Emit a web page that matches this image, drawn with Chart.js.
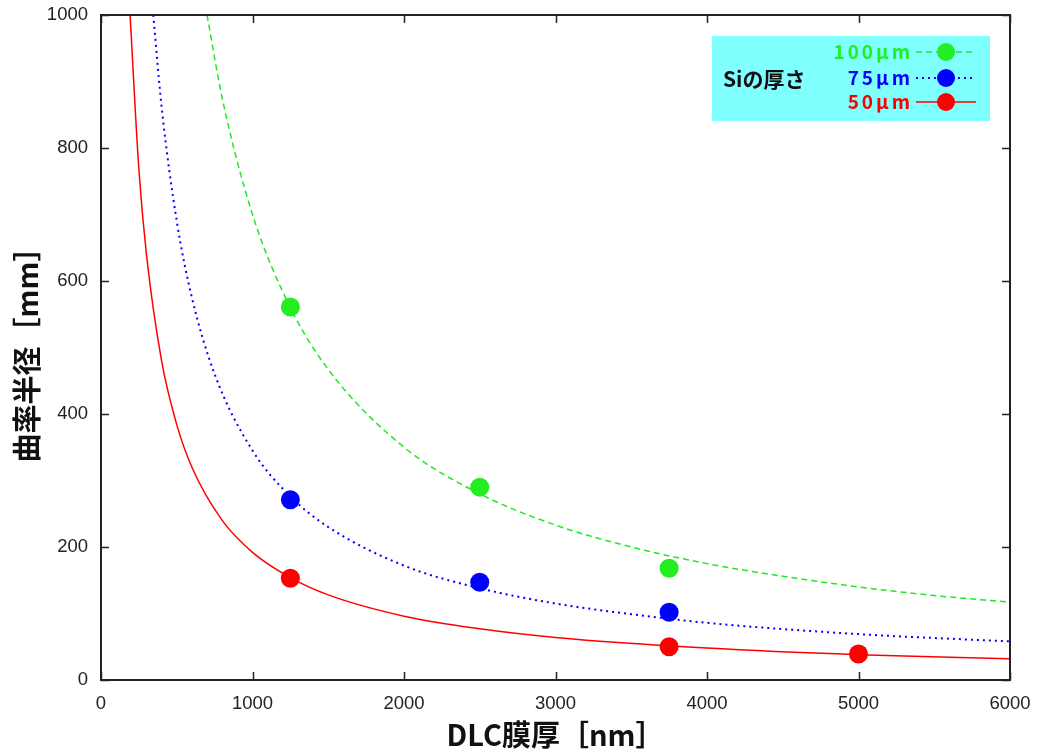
<!DOCTYPE html>
<html>
<head>
<meta charset="utf-8">
<script src="https://cdn.jsdelivr.net/npm/chart.js@4/dist/chart.umd.min.js"></script>
<style>
html,body{margin:0;padding:0;background:#fff;}
#wrap{width:1041px;height:754px;}
</style>
</head>
<body>
<div id="wrap"><canvas id="c" width="1041" height="754"></canvas></div>
<script>
// measured points (DLC thickness nm -> radius mm)
const thickness = [1250, 2500, 3750, 5000];
const si100Points = [561, 290, 168, null];
const si75Points = [271, 147, 102, null];
const si50Points = [153, null, 50, 39];

// fitted curves
const curve100X = [700, 800, 1000, 1250, 1500, 2000, 2500, 3000, 3500, 4000, 4500, 5000, 5500, 6000];
const curve100Y = [1000, 875, 700, 560, 467, 350, 280, 233, 200, 175, 156, 140, 127, 117];
const curve75X = [345, 400, 500, 600, 750, 1000, 1250, 1500, 2000, 2500, 3000, 3500, 4000, 5000, 6000];
const curve75Y = [1000, 862, 690, 575, 460, 345, 276, 230, 172, 138, 115, 99, 86, 69, 58];
const curve50X = [192, 250, 300, 400, 500, 600, 800, 1000, 1250, 1500, 2000, 2500, 3000, 4000, 5000, 6000];
const curve50Y = [1000, 768, 640, 480, 384, 320, 240, 192, 154, 128, 96, 77, 64, 48, 38, 32];

const xTicks = [0, 1000, 2000, 3000, 4000, 5000, 6000];
const yTicks = [0, 200, 400, 600, 800, 1000];

const legendTitle = 'Siの厚さ';
const seriesNames = ['100μm', '75μm', '50μm'];

const GREEN_L = '#22e822', GREEN_P = '#22ee22';
const BLUE = '#0000ff', RED = '#ff0000';

const zip = (xs, ys) => xs.map((x, i) => ({x: x, y: ys[i]})).filter(p => p.y !== null);

const frame = {
  id: 'frame',
  afterDatasetsDraw(chart) {
    const {ctx, chartArea: a, scales: {x, y}} = chart;
    ctx.save();
    ctx.strokeStyle = '#222';
    ctx.lineWidth = 1.5;
    const L = 8;
    ctx.beginPath();
    xTicks.forEach(v => {
      const px = Math.round(x.getPixelForValue(v)) + 0.5;
      ctx.moveTo(px, a.bottom); ctx.lineTo(px, a.bottom - L);
      ctx.moveTo(px, a.top); ctx.lineTo(px, a.top + L);
    });
    yTicks.forEach(v => {
      const py = Math.round(y.getPixelForValue(v)) + 0.5;
      ctx.moveTo(a.left, py); ctx.lineTo(a.left + L, py);
      ctx.moveTo(a.right, py); ctx.lineTo(a.right - L, py);
    });
    ctx.stroke();
    ctx.lineWidth = 2;
    ctx.strokeRect(a.left, a.top, a.right - a.left, a.bottom - a.top);
    ctx.restore();
  }
};

const legendBox = {
  id: 'legendBox',
  afterDraw(chart) {
    const ctx = chart.ctx;
    ctx.save();
    ctx.fillStyle = '#80ffff';
    ctx.fillRect(712, 36, 278, 85);
    ctx.fillStyle = '#111';
    ctx.font = 'bold 21px "Noto Sans CJK JP"';
    ctx.textBaseline = 'middle';
    ctx.textAlign = 'left';
    ctx.fillText(legendTitle, 723, 79);
    const rows = [
      {name: seriesNames[0], c: GREEN_L, p: GREEN_P, dash: [6, 4], w: 1.5, y: 52},
      {name: seriesNames[1], c: BLUE, p: BLUE, dash: [2, 4], w: 2, y: 78},
      {name: seriesNames[2], c: RED, p: RED, dash: [], w: 1.5, y: 102}
    ];
    rows.forEach(r => {
      ctx.font = 'bold 19px "Noto Sans CJK JP"';
      ctx.letterSpacing = '3px';
      ctx.textAlign = 'right';
      ctx.fillStyle = r.p;
      ctx.fillText(r.name, 913, r.y);
      ctx.letterSpacing = '0px';
      ctx.strokeStyle = r.c;
      ctx.lineWidth = r.w;
      ctx.setLineDash(r.dash);
      ctx.beginPath();
      ctx.moveTo(916, r.y); ctx.lineTo(976, r.y);
      ctx.stroke();
      ctx.setLineDash([]);
      ctx.fillStyle = r.p;
      ctx.beginPath();
      ctx.arc(946, r.y, 9, 0, Math.PI * 2);
      ctx.fill();
    });
    ctx.restore();
  }
};

const lineDs = (data, color, dash, w) => ({
  type: 'line', data: data, borderColor: color, borderWidth: w, borderDash: dash,
  pointRadius: 0, fill: false, cubicInterpolationMode: 'monotone', order: 2
});
const ptDs = (data, color) => ({
  type: 'scatter', data: data, backgroundColor: color, borderColor: color,
  pointRadius: 9.5, pointHoverRadius: 9.5, borderWidth: 0, order: 1
});

const numFmt = v => String(v);

new Chart(document.getElementById('c'), {
  type: 'scatter',
  data: {
    datasets: [
      lineDs(zip(curve100X, curve100Y), GREEN_L, [6, 4], 1.5),
      lineDs(zip(curve75X, curve75Y), BLUE, [2, 4], 2),
      lineDs(zip(curve50X, curve50Y), RED, [], 1.5),
      ptDs(zip(thickness, si100Points), GREEN_P),
      ptDs(zip(thickness, si75Points), BLUE),
      ptDs(zip(thickness, si50Points), RED)
    ]
  },
  options: {
    responsive: false,
    animation: false,
    events: [],
    layout: {padding: {top: 15, right: 31, left: 0, bottom: 0}},
    plugins: {legend: {display: false}, tooltip: {enabled: false}},
    scales: {
      x: {
        type: 'linear', min: 0, max: 6000,
        afterBuildTicks: s => { s.ticks = xTicks.map(v => ({value: v})); },
        afterFit: s => { s.height = 74; s.paddingLeft = 0; s.paddingRight = 0; },
        grid: {display: false, drawTicks: false},
        border: {display: false},
        ticks: {padding: 13, color: '#222', callback: numFmt, font: {family: '"Liberation Sans", Arial', size: 18.5}},
        title: {display: true, text: 'DLC膜厚［nm］', color: '#111', align: 'center',
          font: {family: '"Noto Sans CJK JP"', size: 29, weight: 'bold'}, padding: {top: 0, bottom: 2}}
      },
      y: {
        type: 'linear', min: 0, max: 1000,
        afterBuildTicks: s => { s.ticks = yTicks.map(v => ({value: v})); },
        afterFit: s => { s.width = 101; s.paddingTop = 0; s.paddingBottom = 0; },
        grid: {display: false, drawTicks: false},
        border: {display: false},
        ticks: {padding: 13, color: '#222', callback: numFmt, font: {family: '"Liberation Sans", Arial', size: 18.5}},
        title: {display: true, text: '曲率半径［mm］', color: '#111',
          font: {family: '"Noto Sans CJK JP"', size: 29, weight: 'bold'}, padding: {top: 10, bottom: 0}}
      }
    }
  },
  plugins: [frame, legendBox]
});
</script>
</body>
</html>
